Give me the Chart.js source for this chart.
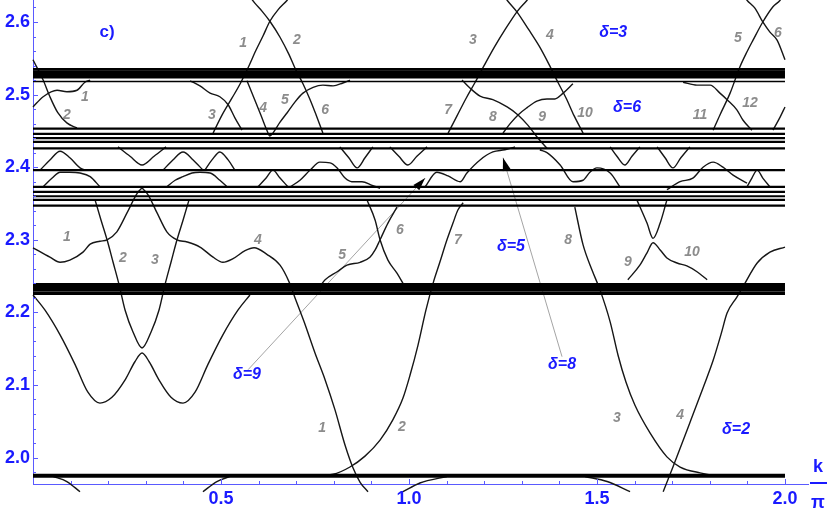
<!DOCTYPE html>
<html>
<head>
<meta charset="utf-8">
<script src="https://cdn.jsdelivr.net/npm/chart.js@4.4.1/dist/chart.umd.min.js"></script>
<style>
  html, body { margin: 0; padding: 0; background: #fff; }
  canvas { display: block; }
</style>
</head>
<body>
<canvas id="grafico" width="830" height="515"></canvas>
<script>
// axis ticks
const kTicks = [0.5, 1.0, 1.5, 2.0];
const eTicks = [2.0, 2.1, 2.2, 2.3, 2.4, 2.5, 2.6];

// flat (dispersionless) levels
const flatDense = [2.5346, 2.5311, 2.5277, 2.5242, 2.2384, 2.2343, 2.2302, 2.2260];
const flatLoose = [2.453, 2.446, 2.440, 2.435, 2.426, 2.396, 2.373, 2.366, 2.360, 2.355, 2.347];
const flatSingle = [2.518];
const flatBottom = [1.975];

// delta = 2 branches (lower part)
const wBand = [[0,2.224],[0.032,2.203],[0.072,2.169],[0.112,2.128],[0.146,2.090],[0.178,2.075],[0.210,2.083],[0.245,2.107],[0.271,2.132],[0.290,2.144],[0.309,2.132],[0.335,2.107],[0.367,2.083],[0.399,2.075],[0.431,2.090],[0.465,2.128],[0.505,2.169],[0.545,2.203],[0.577,2.224]];
const vBand = [[0.165,2.355],[0.181,2.327],[0.197,2.300],[0.213,2.269],[0.229,2.238],[0.245,2.203],[0.266,2.173],[0.290,2.151],[0.314,2.173],[0.335,2.203],[0.351,2.238],[0.367,2.269],[0.383,2.300],[0.399,2.327],[0.415,2.355]];
const d2Two = [[0.742,1.975],[0.798,1.977],[0.843,1.987],[0.883,2.002],[0.923,2.024],[0.957,2.052],[0.984,2.082],[1.003,2.114],[1.024,2.155],[1.045,2.203],[1.064,2.240],[1.082,2.269],[1.101,2.300],[1.117,2.323],[1.130,2.341],[1.144,2.351]];
const d2Three = [[1.441,2.345],[1.463,2.293],[1.487,2.258],[1.508,2.231],[1.535,2.187],[1.556,2.141],[1.577,2.104],[1.601,2.072],[1.641,2.034],[1.686,2.001],[1.721,1.987],[1.774,1.979],[1.827,1.975],[1.880,1.975]];
const d2Four = [[1.676,1.953],[1.702,1.987],[1.747,2.048],[1.782,2.096],[1.809,2.134],[1.830,2.170],[1.846,2.199],[1.872,2.221],[1.888,2.235],[1.926,2.268],[1.960,2.283],[2.0,2.290]];
const arcA = [[0.053,1.974],[0.090,1.967],[0.125,1.953]];
const arcB = [[0.452,1.953],[0.489,1.967],[0.524,1.974]];
const arcC = [[0.984,1.953],[1.029,1.965],[1.101,1.974]];
const arcD = [[1.468,1.974],[1.527,1.967],[1.588,1.953]];

// delta = 5 branches (middle)
const d5One = [[0,2.289],[0.045,2.276],[0.072,2.269],[0.098,2.272],[0.133,2.283],[0.152,2.294],[0.178,2.298],[0.197,2.300],[0.223,2.311],[0.250,2.337],[0.277,2.364],[0.293,2.373]];
const d5Four = [[0.287,2.373],[0.306,2.362],[0.330,2.337],[0.356,2.311],[0.383,2.300],[0.410,2.297],[0.444,2.290],[0.479,2.276],[0.505,2.269],[0.532,2.274],[0.564,2.285],[0.588,2.289],[0.622,2.280],[0.657,2.265],[0.681,2.242],[0.699,2.217],[0.721,2.187],[0.750,2.144],[0.777,2.107],[0.803,2.066],[0.830,2.017],[0.851,1.986],[0.870,1.966],[0.891,1.953]];
const d5Five = [[0.769,2.240],[0.777,2.245],[0.809,2.256],[0.835,2.265],[0.870,2.269],[0.896,2.276],[0.910,2.286],[0.923,2.300],[0.944,2.323],[0.968,2.345]];
const d5Six = [[0.888,2.355],[0.910,2.327],[0.923,2.300],[0.944,2.272],[0.968,2.254],[0.984,2.240]];
const d5Nine = [[1.582,2.245],[1.614,2.265],[1.633,2.282],[1.649,2.296],[1.668,2.286],[1.686,2.275],[1.713,2.268],[1.739,2.264],[1.766,2.256],[1.793,2.245]];
const d5Vee = [[1.606,2.355],[1.633,2.323],[1.649,2.302],[1.668,2.323],[1.686,2.355]];

// delta = 3 and delta = 6 branches (upper)
const d6Two = [[0,2.548],[0.027,2.520],[0.045,2.497],[0.066,2.475],[0.090,2.461],[0.117,2.454]];
const d6One = [[0,2.483],[0.027,2.497],[0.064,2.506],[0.090,2.504],[0.117,2.506],[0.138,2.517],[0.152,2.520]];
const d6Three = [[0.418,2.519],[0.444,2.512],[0.471,2.502],[0.497,2.497],[0.519,2.486],[0.537,2.468],[0.556,2.451]];
const d6FourFive = [[0.569,2.519],[0.588,2.495],[0.606,2.472],[0.622,2.451],[0.630,2.443],[0.638,2.447],[0.657,2.462],[0.676,2.475],[0.697,2.490],[0.718,2.502],[0.745,2.510],[0.771,2.513],[0.798,2.512],[0.824,2.516],[0.843,2.520]];
const d3One = [[0.479,2.447],[0.503,2.472],[0.529,2.495],[0.551,2.515],[0.572,2.537],[0.593,2.561],[0.612,2.581],[0.630,2.601],[0.652,2.617],[0.676,2.630],[0.697,2.644]];
const d3Two = [[0.564,2.644],[0.590,2.626],[0.609,2.615],[0.630,2.601],[0.657,2.579],[0.681,2.555],[0.699,2.534],[0.718,2.515],[0.737,2.493],[0.753,2.472],[0.771,2.447]];
const d3Three = [[1.104,2.447],[1.128,2.471],[1.152,2.495],[1.176,2.517],[1.202,2.542],[1.229,2.567],[1.255,2.589],[1.287,2.614],[1.314,2.630],[1.335,2.644]];
const d3Four = [[1.242,2.644],[1.261,2.630],[1.287,2.614],[1.319,2.589],[1.346,2.567],[1.372,2.542],[1.396,2.517],[1.418,2.495],[1.439,2.471],[1.463,2.447]];
const d6Eight = [[1.141,2.520],[1.162,2.509],[1.189,2.498],[1.223,2.493],[1.261,2.483],[1.290,2.472],[1.316,2.458],[1.340,2.442],[1.367,2.426]];
const d6Nine = [[1.250,2.447],[1.269,2.460],[1.290,2.472],[1.314,2.482],[1.340,2.491],[1.367,2.494],[1.388,2.494],[1.410,2.502],[1.436,2.515]];
const d3Five = [[1.809,2.451],[1.827,2.472],[1.854,2.502],[1.880,2.538],[1.899,2.559],[1.915,2.575],[1.941,2.600],[1.968,2.621],[1.987,2.630],[2.0,2.641]];
const d3Six = [[1.880,2.644],[1.899,2.630],[1.920,2.619],[1.941,2.600],[1.960,2.586],[1.979,2.575],[2.0,2.548]];
const d6Twelve = [[1.729,2.517],[1.766,2.513],[1.801,2.513],[1.827,2.502],[1.846,2.493],[1.872,2.479],[1.888,2.465],[1.912,2.451]];
const edgeRise = [[1.968,2.451],[1.987,2.469],[2.0,2.483]];

// delta = 8 / 9 branches between the 2.35 and 2.45 bands
const hump1 = [[0.019,2.396],[0.045,2.410],[0.072,2.422],[0.098,2.413],[0.125,2.399],[0.138,2.396]];
const vee1 = [[0.226,2.428],[0.258,2.415],[0.290,2.403],[0.322,2.415],[0.354,2.428]];
const hump2 = [[0.346,2.396],[0.372,2.410],[0.399,2.421],[0.426,2.410],[0.452,2.396]];
const hump3 = [[0.457,2.396],[0.476,2.410],[0.497,2.421],[0.519,2.410],[0.537,2.396]];
const vee2 = [[0.816,2.428],[0.840,2.413],[0.862,2.399],[0.883,2.413],[0.904,2.428]];
const vee3 = [[0.949,2.428],[0.973,2.415],[0.997,2.403],[1.021,2.415],[1.048,2.428]];
const vee4 = [[1.535,2.428],[1.553,2.415],[1.574,2.403],[1.593,2.415],[1.614,2.428]];
const vee5 = [[1.660,2.428],[1.681,2.413],[1.702,2.399],[1.723,2.413],[1.747,2.428]];
const wig1 = [[0.027,2.373],[0.051,2.385],[0.072,2.393],[0.098,2.393],[0.125,2.392],[0.152,2.387],[0.178,2.373]];
const wig2 = [[0.356,2.373],[0.378,2.382],[0.399,2.387],[0.423,2.392],[0.444,2.393],[0.471,2.392],[0.497,2.382],[0.516,2.373]];
const peak1 = [[0.598,2.373],[0.620,2.385],[0.638,2.396],[0.657,2.385],[0.678,2.373]];
const wig3 = [[0.684,2.373],[0.710,2.382],[0.737,2.396],[0.763,2.407],[0.790,2.406],[0.809,2.399],[0.830,2.385],[0.848,2.380],[0.875,2.380],[0.902,2.375],[0.923,2.371]];
const wig4 = [[1.043,2.373],[1.074,2.393],[1.104,2.388],[1.136,2.380],[1.154,2.392],[1.189,2.410],[1.223,2.421],[1.255,2.424],[1.282,2.428]];
const wig5 = [[1.348,2.424],[1.367,2.420],[1.402,2.403],[1.436,2.380],[1.463,2.382],[1.481,2.393],[1.500,2.399],[1.535,2.392],[1.561,2.373]];
const wig6 = [[1.686,2.369],[1.721,2.380],[1.755,2.385],[1.782,2.400],[1.809,2.407],[1.835,2.400],[1.862,2.389],[1.899,2.378]];
const peak2 = [[1.899,2.373],[1.912,2.385],[1.926,2.396],[1.941,2.385],[1.960,2.373]];

// pointer lines (start, arrow tip)
const pointer9 = [[0.572,2.121],[1.043,2.385]];
const pointer8 = [[1.407,2.139],[1.250,2.413]];

// branch numbers
const grayLabels = [
  ['1',0.559,2.571],['2',0.702,2.575],['3',1.170,2.575],['4',1.375,2.582],['5',1.875,2.578],['6',1.981,2.585],
  ['1',0.138,2.497],['2',0.090,2.472],['3',0.476,2.472],['4',0.612,2.482],['5',0.670,2.493],['6',0.777,2.479],
  ['7',1.104,2.479],['8',1.223,2.469],['9',1.354,2.469],['10',1.468,2.475],['11',1.774,2.472],['12',1.907,2.488],
  ['1',0.090,2.304],['2',0.239,2.275],['3',0.324,2.272],['4',0.598,2.300],['5',0.822,2.279],['6',0.976,2.313],
  ['7',1.130,2.300],['8',1.423,2.300],['9',1.582,2.269],['10',1.753,2.283],
  ['1',0.769,2.041],['2',0.981,2.042],['3',1.553,2.055],['4',1.721,2.059]
];
const deltaLabels = [
  ['δ=3',1.543,2.586],['δ=6',1.580,2.482],['δ=5',1.271,2.291],
  ['δ=9',0.569,2.114],['δ=8',1.407,2.128],['δ=2',1.870,2.039]
];
const panelLabel = ['c)',0.197,2.586];

const blue = '#1a1aff';
const axisBlue = '#5a5aff';
const ink = '#161616';

function toXY(points) {
  return points.map(p => ({ x: p[0], y: p[1] }));
}

function curve(points, width) {
  return {
    data: toXY(points),
    borderColor: ink,
    borderWidth: width,
    pointRadius: 0,
    cubicInterpolationMode: 'monotone',
    fill: false,
    clip: false
  };
}

function flat(level, width) {
  return {
    data: [{ x: 0, y: level }, { x: 2, y: level }],
    borderColor: '#000',
    borderWidth: width,
    pointRadius: 0,
    fill: false,
    clip: false
  };
}

const datasets = [];
flatDense.forEach(v => datasets.push(flat(v, 2.8)));
flatLoose.forEach(v => datasets.push(flat(v, 2.2)));
flatSingle.forEach(v => datasets.push(flat(v, 1.6)));
flatBottom.forEach(v => datasets.push(flat(v, 4)));

[wBand, vBand, d2Two, d2Three, d2Four, arcA, arcB, arcC, arcD,
 d5One, d5Four, d5Five, d5Six, d5Nine, d5Vee,
 d6Two, d6One, d6Three, d6FourFive, d3One, d3Two, d3Three, d3Four,
 d6Eight, d6Nine, d3Five, d3Six, d6Twelve, edgeRise,
 hump1, vee1, hump2, hump3, vee2, vee3, vee4, vee5,
 wig1, wig2, peak1, wig3, wig4, wig5, wig6, peak2
].forEach(c => datasets.push(curve(c, 1.4)));

[pointer9, pointer8].forEach(p => datasets.push({
  data: toXY(p),
  borderColor: '#9a9a9a',
  borderWidth: 0.9,
  pointRadius: 0,
  tension: 0,
  fill: false,
  clip: false
}));

function arrowHead(ctx, x, y, from, to) {
  const x0 = x.getPixelForValue(from[0]), y0 = y.getPixelForValue(from[1]);
  const x1 = x.getPixelForValue(to[0]), y1 = y.getPixelForValue(to[1]);
  const a = Math.atan2(y1 - y0, x1 - x0);
  const len = 13, half = 4;
  ctx.beginPath();
  ctx.moveTo(x1, y1);
  ctx.lineTo(x1 - len * Math.cos(a) + half * Math.sin(a), y1 - len * Math.sin(a) - half * Math.cos(a));
  ctx.lineTo(x1 - len * Math.cos(a) - half * Math.sin(a), y1 - len * Math.sin(a) + half * Math.cos(a));
  ctx.closePath();
  ctx.fillStyle = '#000';
  ctx.fill();
}

const decorations = {
  id: 'decorations',
  afterDraw(chart) {
    const { ctx, chartArea: area, scales: { x, y } } = chart;
    ctx.save();

    // ticks pointing into the plot, Mathematica style
    ctx.strokeStyle = axisBlue;
    ctx.lineWidth = 1;
    ctx.beginPath();
    for (let i = 99; i <= 131; i++) {
      const py = Math.round(y.getPixelForValue(i / 50)) + 0.5;
      const len = i % 5 === 0 ? 5 : 3;
      ctx.moveTo(area.left, py);
      ctx.lineTo(area.left + len, py);
    }
    for (let i = 1; i <= 20; i++) {
      const px = Math.round(x.getPixelForValue(i / 10)) + 0.5;
      const len = i % 5 === 0 ? 5 : 3;
      ctx.moveTo(px, area.bottom);
      ctx.lineTo(px, area.bottom - len);
    }
    ctx.stroke();

    arrowHead(ctx, x, y, pointer9[0], pointer9[1]);
    arrowHead(ctx, x, y, pointer8[0], pointer8[1]);

    ctx.textAlign = 'center';
    ctx.textBaseline = 'middle';

    ctx.font = 'italic bold 14px "Liberation Sans", Arial, sans-serif';
    ctx.fillStyle = '#8c8c8c';
    grayLabels.forEach(([t, k, e]) => {
      ctx.fillText(t, x.getPixelForValue(k), y.getPixelForValue(e));
    });

    ctx.font = 'italic bold 16px "Liberation Sans", Arial, sans-serif';
    ctx.fillStyle = blue;
    deltaLabels.forEach(([t, k, e]) => {
      ctx.fillText(t, x.getPixelForValue(k), y.getPixelForValue(e));
    });

    ctx.font = 'bold 17px "Liberation Sans", Arial, sans-serif';
    ctx.fillText(panelLabel[0], x.getPixelForValue(panelLabel[1]), y.getPixelForValue(panelLabel[2]));

    // k / pi axis title
    const cx = area.right + 10;
    ctx.font = 'bold 18px "Liberation Sans", Arial, sans-serif';
    ctx.fillText('k', cx, area.bottom - 17);
    ctx.fillText('π', cx, area.bottom + 19);
    ctx.fillRect(cx - 8, area.bottom - 2, 17, 2);

    ctx.restore();
  }
};

new Chart(document.getElementById('grafico').getContext('2d'), {
  type: 'line',
  data: { datasets },
  options: {
    responsive: false,
    animation: false,
    events: [],
    layout: { padding: { left: 0, right: 22, top: 0, bottom: 0 } },
    plugins: { legend: { display: false }, tooltip: { enabled: false } },
    scales: {
      x: {
        type: 'linear',
        min: 0,
        max: 2.0612,
        afterBuildTicks: s => { s.ticks = kTicks.map(v => ({ value: v })); },
        afterFit: s => { s.height = 31; s.paddingLeft = 0; s.paddingRight = 0; },
        grid: { display: false, drawTicks: false },
        border: { display: true, color: axisBlue, width: 1 },
        ticks: {
          padding: 4,
          color: blue,
          font: { family: '"Liberation Sans", Arial, sans-serif', size: 18, weight: 'bold' },
          callback: v => Number(v).toFixed(1)
        }
      },
      y: {
        type: 'linear',
        min: 1.9636,
        max: 2.6303,
        afterBuildTicks: s => { s.ticks = eTicks.map(v => ({ value: v })); },
        afterFit: s => { s.width = 33; s.paddingTop = 0; s.paddingBottom = 0; },
        grid: { display: false, drawTicks: false },
        border: { display: true, color: axisBlue, width: 1 },
        ticks: {
          padding: 3,
          color: blue,
          font: { family: '"Liberation Sans", Arial, sans-serif', size: 18, weight: 'bold' },
          callback: v => Number(v).toFixed(1)
        }
      }
    }
  },
  plugins: [decorations]
});
</script>
</body>
</html>
